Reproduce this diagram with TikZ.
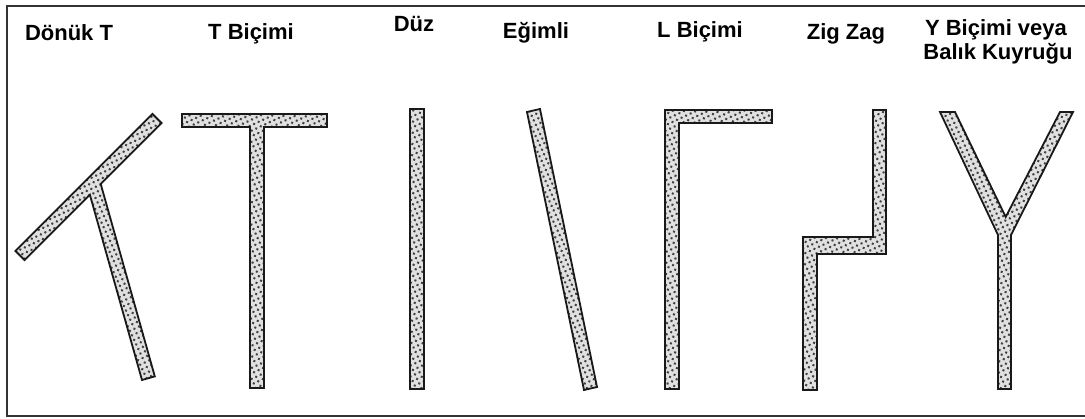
\documentclass[tikz,border=0pt]{standalone}
\usepackage{fontspec}
\setmainfont{Liberation Sans}
\usetikzlibrary{patterns.meta}
\begin{document}
\begin{tikzpicture}[x=1pt,y=-1pt,
  strip/.style={draw=black!90, line width=1.8pt, line join=miter,
    preaction={fill=black!12},
    pattern={Dots[distance=5pt, radius=1.4pt, angle=25]}, pattern color=black!75},
  lbl/.style={anchor=base, inner sep=0pt, font=\fontsize{22}{26}\selectfont\bfseries},
  frame/.style={draw=black!80, line width=2pt}]
\path[use as bounding box] (0,0) rectangle (1085,419);
\coordinate (f1) at (1090,6);
\coordinate (f2) at (7,6);
\coordinate (f3) at (7,416);
\coordinate (f4) at (1090,416);
\draw[frame] (f1) -- (f2) -- (f3) -- (f4);

% labels
\node[lbl] (l1) at (69,41) {Dönük T};
\node[lbl] (l2) at (251,40) {T Biçimi};
\node[lbl] (l3) at (414,32) {Düz};
\node[lbl] (l4) at (536,39) {Eğimli};
\node[lbl] (l5) at (700,38) {L Biçimi};
\node[lbl] (l6) at (846,40) {Zig Zag};
\node[lbl] (l7a) at (996,36) {Y Biçimi veya};
\node[lbl] (l7b) at (998,60) {Balık Kuyruğu};

% Dönük T
\draw[strip] (15.4,250.9) -- (152.4,113.9) -- (161.6,123.1) -- (100.7,183.9)
  -- (154.8,376.4) -- (142,380) -- (89.9,194.8) -- (24.6,260.1) -- cycle;
% T Biçimi
\draw[strip] (182,114) -- (327,114) -- (327,127) -- (264,127) -- (264,388)
  -- (250,388) -- (250,127) -- (182,127) -- cycle;
% Düz
\draw[strip] (410,109) rectangle (424,389);
% Eğimli
\draw[strip] (527,112) -- (540,109) -- (597,387) -- (584,390) -- cycle;
% L Biçimi
\draw[strip] (665,110) -- (772,110) -- (772,123) -- (679,123) -- (679,389)
  -- (665,389) -- cycle;
% Zig Zag
\draw[strip] (873,110) -- (886,110) -- (886,254) -- (817,254) -- (817,390)
  -- (803,390) -- (803,237) -- (873,237) -- cycle;
% Y
\draw[strip] (940,112) -- (955,112) -- (1005.7,217) -- (1060,112) -- (1073,112)
  -- (1011,235) -- (1011,389) -- (998,389) -- (998,235) -- cycle;
\end{tikzpicture}
\end{document}
